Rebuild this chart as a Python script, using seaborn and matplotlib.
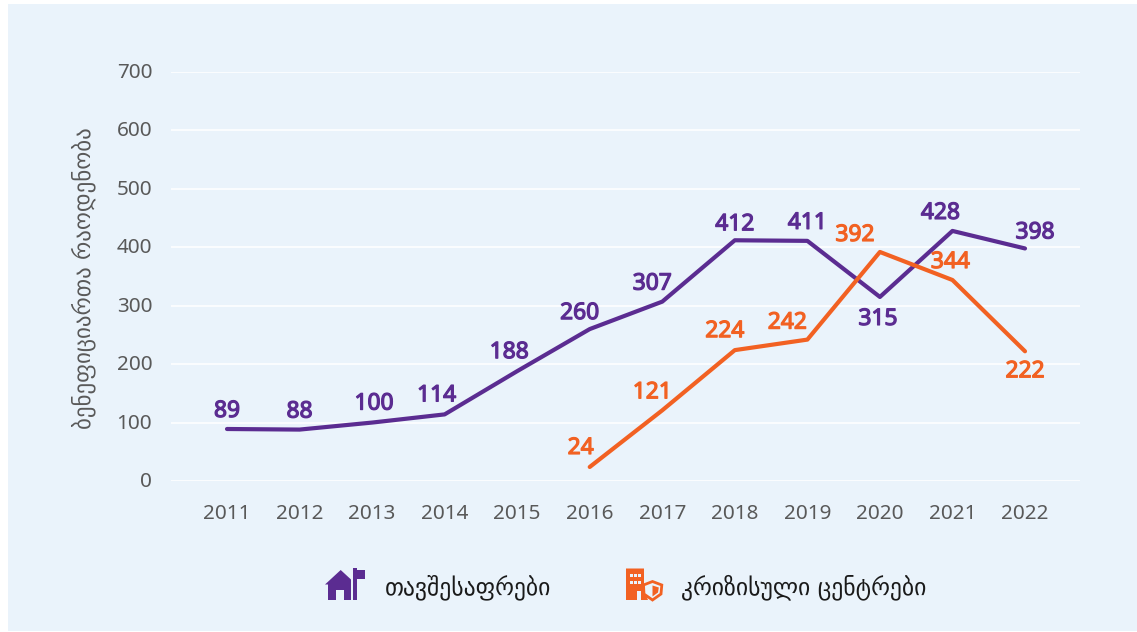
import matplotlib
matplotlib.use('Agg')
import matplotlib.pyplot as plt
import matplotlib.patheffects as pe
from matplotlib.patches import Polygon, Rectangle
from matplotlib.transforms import Affine2D
import pandas as pd
import seaborn as sns

# Data
years = [2011, 2012, 2013, 2014, 2015, 2016, 2017, 2018, 2019, 2020, 2021, 2022]
shelters = [89, 88, 100, 114, 188, 260, 307, 412, 411, 315, 428, 398]
crisis_years = [2016, 2017, 2018, 2019, 2020, 2021, 2022]
crisis_centres = [24, 121, 224, 242, 392, 344, 222]
y_ticks = [0, 100, 200, 300, 400, 500, 600, 700]

shelter_name = 'თავშესაფრები'
crisis_name = 'კრიზისული ცენტრები'
y_title = 'ბენეფიციართა რაოდენობა'

PURPLE = '#5B2C91'
ORANGE = '#F26122'
PANEL = '#EAF3FB'
W, H = 1137, 632

# label offsets from their point, in pixels
shelter_off = [(0, 18), (0, 18), (2, 19), (-8, 19), (-8, 19), (-10, 16),
               (-10, 18), (0, 16), (0, 18), (-2, -22), (-12, 18), (10, 16)]
crisis_off = [(-9, 19), (-10, 18), (-10, 19), (-20, 17), (-25, 17), (-2, 18), (0, -20)]

sns.set_theme(style='white')
plt.rcParams['font.family'] = ['Noto Sans', 'DejaVu Sans']

df = pd.concat([
    pd.DataFrame({'year': years, 'value': shelters, 'kind': shelter_name}),
    pd.DataFrame({'year': crisis_years, 'value': crisis_centres, 'kind': crisis_name}),
])

fig = plt.figure(figsize=(W / 100, H / 100), dpi=100, facecolor='white')
fig.add_artist(Rectangle((8 / W, 1 / H), (W - 8) / W, (H - 5) / H,
                         transform=fig.transFigure, fc=PANEL, ec='none', zorder=-5))

ax = fig.add_axes([171 / W, 1 - 481 / H, (1080 - 171) / W, (481 - 72) / H])
ax.patch.set_alpha(0)

sns.lineplot(data=df, x='year', y='value', hue='kind', ax=ax, legend=False,
             hue_order=[shelter_name, crisis_name], palette=[PURPLE, ORANGE],
             linewidth=3, errorbar=None, zorder=3)

ax.set_xlim(2011 - 56 / 72.55, 2022 + 55 / 72.55)
ax.set_ylim(0, 700)
ax.set_xticks(years)
ax.set_yticks(y_ticks)
ax.grid(axis='y', color='white', linewidth=1.1)
ax.set_axisbelow(True)
sns.despine(ax=ax, left=True, bottom=True)
ax.tick_params(axis='both', length=0, labelsize=14.9, labelcolor='#595959')
ax.tick_params(axis='x', pad=16.7)
ax.tick_params(axis='y', pad=13.5)
for lab in ax.get_yticklabels():
    lab.set_transform(lab.get_transform() + Affine2D().translate(0, 1.5))

ax.set_xlabel('')
ax.set_ylabel('')
fig.text(84 / W, 1 - 278 / H, y_title, rotation=90, ha='center', va='center',
         fontsize=16.5, color='#595959', family=['DejaVu Sans'])

for xs, vals, offs, col in [(years, shelters, shelter_off, PURPLE),
                            (crisis_years, crisis_centres, crisis_off, ORANGE)]:
    for x, v, off in zip(xs, vals, offs):
        # the installed Noto Sans has no usable bold, so thicken it with a stroke
        ax.annotate(str(v), (x, v), xytext=off, textcoords='offset pixels',
                    ha='center', va='center', fontsize=16.4, color=col, zorder=4,
                    path_effects=[pe.withStroke(linewidth=0.9, foreground=col)])


# legend, drawn by hand: icons use image pixels with y pointing down
def add(patch):
    patch.set_transform(Affine2D().scale(1, -1).translate(0, H))
    fig.add_artist(patch)


# house with flag
add(Polygon([(325, 584.5), (340.7, 570), (351, 579.5), (351, 600), (344, 600), (344, 590),
             (336, 590), (336, 600), (328, 600), (328, 584.5)], closed=True, fc=PURPLE, ec='none'))
add(Rectangle((353.3, 568), 3.7, 32, fc=PURPLE, ec='none'))
add(Rectangle((357, 570), 8, 8.7, fc=PURPLE, ec='none'))

# building with shield
add(Polygon([(626, 568.5), (644, 568.5), (644, 582), (644, 590), (648, 600), (626, 600)],
            closed=True, fc=ORANGE, ec='none'))
for wx in (629.7, 634, 638.3):
    for wy in (574, 580.7):
        add(Rectangle((wx, wy), 2.8, 3.3, fc=PANEL, ec='none'))
add(Rectangle((637, 591), 4, 9, fc=PANEL, ec='none'))
add(Polygon([(652.5, 581.5), (661.8, 585), (661, 594), (652.5, 600), (644, 594), (643.5, 585)],
            closed=True, fc=PANEL, ec=ORANGE, lw=2))
add(Polygon([(652.5, 585.5), (652.5, 596.5), (658, 592.5), (658.8, 587.5)],
            closed=True, fc=ORANGE, ec='none'))

fig.text(385 / W, 1 - 587 / H, shelter_name, ha='left', va='center', fontsize=17,
         color='#1a1a1a', family=['DejaVu Sans'])
fig.text(681 / W, 1 - 587 / H, crisis_name, ha='left', va='center', fontsize=17,
         color='#1a1a1a', family=['DejaVu Sans'])

fig.savefig('out.png', dpi=100, facecolor='white')
